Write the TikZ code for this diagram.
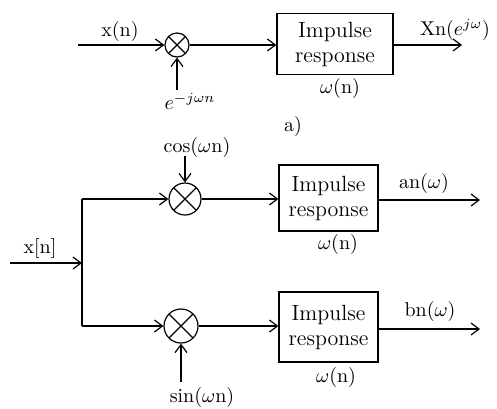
\documentclass[tikz,border=0pt]{standalone}
\usetikzlibrary{arrows.meta}
\begin{document}
\begin{tikzpicture}[x=0.5pt,y=-0.5pt,
  wire/.style={line width=0.6pt},
  arr/.style={wire,-{Straight Barb[length=4pt,width=6pt]}},
  mult/.style={draw,circle,line width=0.6pt,inner sep=0pt,minimum size=#1,
    path picture={\draw[line width=0.6pt] (path picture bounding box.north west)--(path picture bounding box.south east)
      (path picture bounding box.north east)--(path picture bounding box.south west);}},
  blk/.style={draw,line width=0.6pt,minimum width=#1,align=center,inner sep=2pt,font=\fontsize{11}{12.5}\selectfont},
  lbl/.style={font=\fontsize{10}{12}\selectfont,inner sep=1pt}
]
\useasboundingbox (0,0) rectangle (497,408);
% ---------- (a) ----------
\coordinate (in1) at (78,45);
\node[mult=12pt] (m1) at (177,45) {};
\node[blk=58pt,minimum height=30.5pt] (b1) at (335,44) {Impulse\\response};
\coordinate (out1) at (462,45);
\coordinate (e1) at (177,90);
\draw[arr] (in1) -- (m1);
\draw[arr] (e1) -- (m1);
\draw[arr] (m1) -- (m1 -| b1.west);
\draw[arr] (b1.east |- out1) -- (out1);
\node[lbl] (lx) at (120,31) {x(n)};
\node[lbl] (le) at (190,101) {$e^{-j\omega n}$};
\node[lbl] (lX) at (455,30) {Xn($e^{j\omega}$)};
\node[lbl] (lw1) at (340,88) {$\omega$(n)};
\node[lbl] (la) at (293,126) {a)};
% ---------- (b) ----------
\coordinate (in2) at (10,263);
\coordinate (j) at (82,263);
\coordinate (jt) at (82,199);
\coordinate (jb) at (82,326);
\node[mult=16pt] (m2) at (185,199) {};
\node[mult=17pt] (m3) at (181,326) {};
\node[blk=49.5pt,minimum height=33pt] (b2) at (328.5,198) {Impulse\\response};
\node[blk=49.5pt,minimum height=35pt] (b3) at (328.5,327) {Impulse\\response};
\coordinate (c2) at (185,156);
\coordinate (s3) at (181,382);
\coordinate (out2) at (480,200);
\coordinate (out3) at (480,329);
\draw[arr] (in2) -- (j);
\draw[wire] (jt) -- (jb);
\draw[arr] (jt) -- (m2);
\draw[arr] (jb) -- (m3);
\draw[arr] (c2) -- (m2);
\draw[arr] (s3) -- (m3);
\draw[arr] (m2) -- (m2 -| b2.west);
\draw[arr] (m3) -- (m3 -| b3.west);
\draw[arr] (b2.east |- out2) -- (out2);
\draw[arr] (b3.east |- out3) -- (out3);
\node[lbl] (lxn) at (40,248) {x[n]};
\node[lbl] (lc) at (197,147) {cos($\omega$n)};
\node[lbl] (ls) at (202,397) {sin($\omega$n)};
\node[lbl] (lan) at (424,183) {an($\omega$)};
\node[lbl] (lbn) at (430,311) {bn($\omega$)};
\node[lbl] (lw2) at (338,244) {$\omega$(n)};
\node[lbl] (lw3) at (336,377) {$\omega$(n)};
\end{tikzpicture}
\end{document}
